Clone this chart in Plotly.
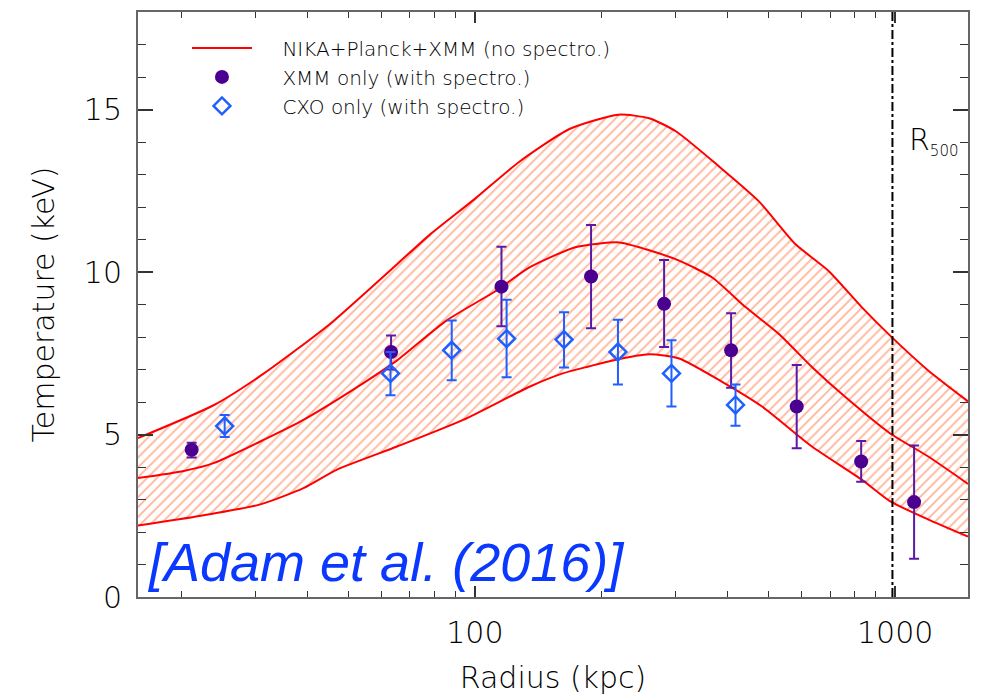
import numpy as np
import plotly.graph_objects as go

# ---- data (radius in kpc, temperature in keV) ----
upper_r = [15.8, 23.9, 31.5, 45.3, 65.3, 78.2, 100, 127.8, 167.9, 219.4, 259.8, 300.7,
           380.8, 473.4, 578.5, 693.5, 832.4, 971.3, 1196, 1490]
upper_T = [4.89, 5.90, 6.88, 8.41, 10.24, 11.15, 12.25, 13.40, 14.40, 14.84, 14.73, 14.33,
           13.25, 12.18, 10.86, 10.04, 8.92, 8.05, 6.98, 6.02]

mid_r = [15.8, 20.3, 23.9, 31.5, 39.1, 54.3, 65.3, 85.7, 112.6, 134.9, 174.2, 220.6,
         255.2, 306.2, 367.1, 440.5, 528.1, 633.6, 760.0, 971.3, 1196, 1490]
mid_T = [3.66, 3.88, 4.12, 4.84, 5.45, 6.58, 7.28, 8.51, 9.43, 10.14, 10.77, 10.91,
         10.70, 10.35, 9.83, 8.92, 8.10, 7.08, 6.16, 5.04, 4.33, 3.48]

low_r = [15.8, 22.3, 30.9, 39.1, 47.0, 65.3, 93.8, 134.9, 161.8, 187.3, 212.7, 259.8,
         306.2, 387.5, 482.2, 633.6, 832.4, 971.3, 1196, 1490]
low_T = [2.20, 2.50, 2.85, 3.35, 3.92, 4.63, 5.45, 6.47, 6.88, 7.10, 7.28, 7.47,
         7.34, 6.62, 5.86, 4.63, 3.61, 2.95, 2.39, 1.86]

xmm_r = [21.2, 63.2, 115.7, 189, 282, 407, 583, 830, 1109]
xmm_T = [4.53, 7.54, 9.55, 9.86, 9.02, 7.59, 5.86, 4.17, 2.92]
xmm_hi = [4.75, 8.05, 10.78, 11.45, 10.37, 8.73, 7.14, 4.80, 4.66]
xmm_lo = [4.29, 7.00, 8.33, 8.27, 7.69, 6.44, 4.58, 3.55, 1.18]

cxo_r = [25.4, 63.0, 88.1, 119, 163, 219, 293.6, 417]
cxo_T = [5.26, 6.88, 7.59, 7.95, 7.92, 7.54, 6.88, 5.91]
cxo_hi = [5.60, 7.54, 8.51, 9.15, 8.76, 8.53, 7.90, 6.54]
cxo_lo = [4.92, 6.21, 6.67, 6.76, 7.06, 6.54, 5.86, 5.27]

R500 = 985
x_range = [15.8, 1490]
y_range = [0, 18]
x_major = [100, 1000]
x_minor = [20, 30, 40, 50, 60, 70, 80, 90, 200, 300, 400, 500, 600, 700, 800, 900]

FONT = "DejaVu Sans"
RED = "#FF0000"
PURPLE = "#4B0090"
PURPLE_ERR = "#5A1AA6"
BLUE = "#1F5FFF"
PAD = "\u00a0\u00a0\u00a0\u00a0"

fig = go.Figure()

# hatched band
fig.add_trace(go.Scatter(
    x=upper_r + low_r[::-1], y=upper_T + low_T[::-1],
    mode="lines", fill="toself", line=dict(width=0, shape="spline", smoothing=0.6),
    fillcolor="rgba(0,0,0,0)",
    fillpattern=dict(shape="/", fgcolor="#FF6A35", bgcolor="rgba(255,255,255,0)",
                     size=7, solidity=0.26, fillmode="overlay"),
    showlegend=False, hoverinfo="skip"))

line_style = dict(color=RED, width=2, shape="spline", smoothing=0.6)
fig.add_trace(go.Scatter(x=upper_r, y=upper_T, mode="lines", line=line_style, showlegend=False))
fig.add_trace(go.Scatter(x=mid_r, y=mid_T, mode="lines", line=line_style,
                         name=PAD + "NIKA+Planck+XMM (no spectro.)"))
fig.add_trace(go.Scatter(x=low_r, y=low_T, mode="lines", line=line_style, showlegend=False))

# R500 line
fig.add_trace(go.Scatter(x=[R500, R500], y=y_range, mode="lines",
                         line=dict(color="black", width=2, dash="dashdot"),
                         showlegend=False))

fig.add_trace(go.Scatter(
    x=xmm_r, y=xmm_T, mode="markers", name=PAD + "XMM only (with spectro.)",
    marker=dict(symbol="circle", size=14, color=PURPLE),
    error_y=dict(type="data", symmetric=False,
                 array=[h - t for h, t in zip(xmm_hi, xmm_T)],
                 arrayminus=[t - l for l, t in zip(xmm_lo, xmm_T)],
                 color=PURPLE_ERR, thickness=2, width=5)))

fig.add_trace(go.Scatter(
    x=cxo_r, y=cxo_T, mode="markers", name=PAD + "CXO only (with spectro.)",
    marker=dict(symbol="diamond-open", size=13, color=BLUE, line=dict(width=2.5, color=BLUE)),
    error_y=dict(type="data", symmetric=False,
                 array=[h - t for h, t in zip(cxo_hi, cxo_T)],
                 arrayminus=[t - l for l, t in zip(cxo_lo, cxo_T)],
                 color=BLUE, thickness=2, width=5)))

fig.update_layout(
    width=982, height=699,
    margin=dict(l=138, r=14, t=10, b=101),
    paper_bgcolor="white", plot_bgcolor="white",
    font=dict(family=FONT, color="black", weight=200),
    legend=dict(x=0.059, y=0.972, xanchor="left", yanchor="top",
                bgcolor="rgba(0,0,0,0)", font=dict(size=20, family=FONT, weight=200),
                itemwidth=60, tracegroupgap=0),
    xaxis=dict(type="log", range=[np.log10(x_range[0]), np.log10(x_range[1])],
               tickmode="array", tickvals=x_major, ticktext=[str(v) for v in x_major],
               ticks="inside", ticklen=11, tickwidth=1.5, tickcolor="#333",
               minor=dict(tickmode="array", tickvals=x_minor, ticks="inside",
                          ticklen=6, tickwidth=1.2, tickcolor="#333", showgrid=False),
               showline=True, linecolor="#666", linewidth=2, mirror="allticks",
               showgrid=False, zeroline=False, ticklabelstandoff=8,
               tickfont=dict(size=30, family=FONT, weight=200),
               title=dict(text="Radius (kpc)", font=dict(size=30, family=FONT, weight=200),
                          standoff=18)),
    yaxis=dict(range=y_range, tickmode="linear", tick0=0, dtick=5,
               ticks="inside", ticklen=15, tickwidth=1.5, tickcolor="#333",
               minor=dict(dtick=1, ticks="inside", ticklen=8, tickwidth=1.2,
                          tickcolor="#333", showgrid=False),
               showline=True, linecolor="#666", linewidth=2, mirror="allticks",
               showgrid=False, zeroline=False, ticklabelstandoff=8,
               tickfont=dict(size=30, family=FONT, weight=200),
               title=dict(text="Temperature (keV)", font=dict(size=30, family=FONT, weight=200),
                          standoff=20)),
)

fig.add_annotation(text="R<sub><span style='font-size:15px'>500</span></sub>",
                   xref="paper", yref="paper", x=0.927, y=0.779,
                   xanchor="left", yanchor="middle", showarrow=False,
                   font=dict(size=30, family=FONT, color="black", weight=200))

fig.add_annotation(text="<i>[Adam et al. (2016)]</i>",
                   xref="paper", yref="paper", x=0.008, y=0.0, yshift=3,
                   xanchor="left", yanchor="bottom", showarrow=False,
                   font=dict(size=54, family="Liberation Sans", color="#0A38FF"))

fig.write_html("out.html")
